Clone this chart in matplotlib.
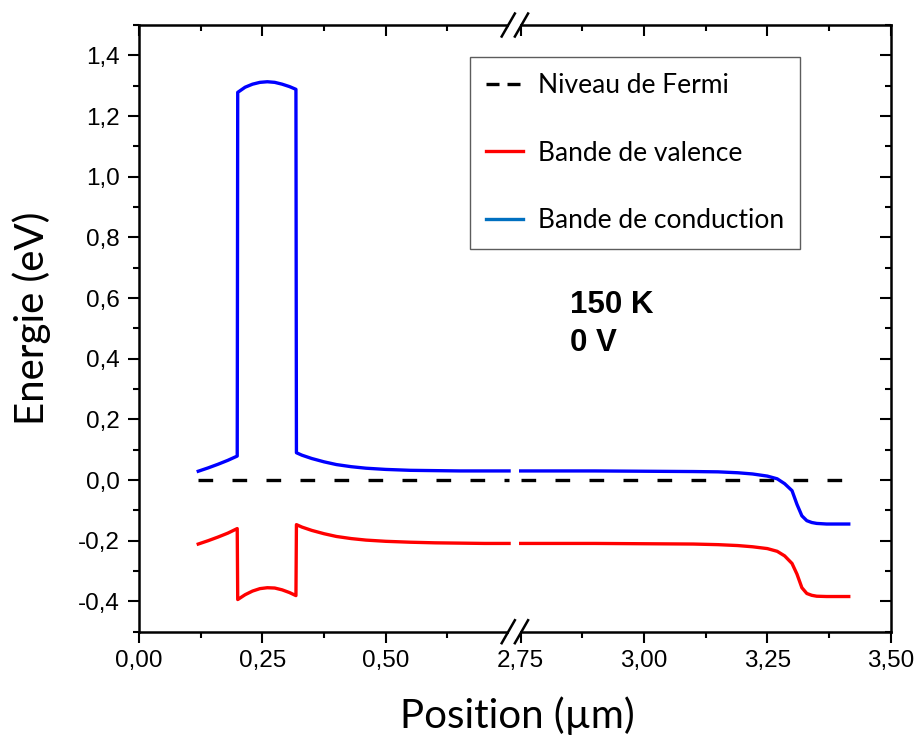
import matplotlib
matplotlib.use("Agg")
import numpy as np
import matplotlib.pyplot as plt
from matplotlib.ticker import FixedLocator, FuncFormatter, NullFormatter
from matplotlib.lines import Line2D
from matplotlib.patches import Rectangle

# ---------------- data ----------------
# left segment (0 - 0.75 µm)
x_left = [0.12, 0.14, 0.16, 0.18, 0.199, 0.200, 0.215, 0.23, 0.245, 0.26, 0.275,
          0.29, 0.305, 0.318, 0.319, 0.33, 0.35, 0.375, 0.40, 0.43, 0.46, 0.50,
          0.55, 0.60, 0.65, 0.70, 0.75]
cond_left = [0.029, 0.040, 0.052, 0.065, 0.079, 1.278, 1.295, 1.305, 1.311, 1.313, 1.311,
             1.305, 1.297, 1.288, 0.090, 0.082, 0.071, 0.060, 0.051, 0.044, 0.039, 0.035,
             0.032, 0.031, 0.030, 0.030, 0.030]
val_left = [-0.211, -0.200, -0.188, -0.175, -0.160, -0.394, -0.378, -0.366, -0.358, -0.355, -0.356,
            -0.362, -0.371, -0.381, -0.147, -0.155, -0.166, -0.177, -0.186, -0.193, -0.198, -0.202,
            -0.205, -0.207, -0.208, -0.209, -0.209]

# right segment (2.75 - 3.5 µm)
x_right = [2.75, 2.90, 3.00, 3.10, 3.15, 3.19, 3.22, 3.25, 3.27, 3.285, 3.30, 3.31,
           3.32, 3.33, 3.34, 3.35, 3.37, 3.39, 3.415]
cond_right = [0.030, 0.030, 0.029, 0.028, 0.027, 0.024, 0.020, 0.013, 0.004, -0.012, -0.035, -0.080,
              -0.118, -0.134, -0.140, -0.143, -0.145, -0.145, -0.145]
val_right = [-0.209, -0.209, -0.210, -0.211, -0.213, -0.216, -0.220, -0.226, -0.235, -0.250, -0.275, -0.310,
             -0.355, -0.374, -0.380, -0.383, -0.384, -0.384, -0.384]

fermi_x_left = [0.12, 0.75]
fermi_x_right = [2.75, 3.415]
fermi_level = [0.0, 0.0]

x_major = [0.0, 0.25, 0.5, 2.75, 3.0, 3.25, 3.5]
x_minor = [0.125, 0.375, 0.625, 2.875, 3.125, 3.375]
y_major = [-0.4, -0.2, 0.0, 0.2, 0.4, 0.6, 0.8, 1.0, 1.2, 1.4]
y_minor = [-0.5, -0.3, -0.1, 0.1, 0.3, 0.5, 0.7, 0.9, 1.1, 1.3, 1.5]

labels = ["Niveau de Fermi", "Bande de valence", "Bande de conduction"]
annot = "150 K\n0 V"

# ---------------- broken x scale ----------------
BRK0, BRK1, GAP = 0.75, 2.75, 0.0235


def fwd(x):
    x = np.asarray(x, dtype=float)
    return np.where(x <= BRK0, x,
                    np.where(x >= BRK1, x - (BRK1 - BRK0) + GAP,
                             BRK0 + (x - BRK0) * GAP / (BRK1 - BRK0)))


def inv(u):
    u = np.asarray(u, dtype=float)
    return np.where(u <= BRK0, u,
                    np.where(u >= BRK0 + GAP, u + (BRK1 - BRK0) - GAP,
                             BRK0 + (u - BRK0) * (BRK1 - BRK0) / GAP))


fig = plt.figure(figsize=(9.19, 7.36), dpi=100)
ax = fig.add_axes([0.1513, 0.1417, 0.8179, 0.8243])


def setup_x(a):
    a.set_xscale("function", functions=(fwd, inv))
    a.set_xlim(0, 3.5)
    a.xaxis.set_major_locator(FixedLocator(x_major))
    a.xaxis.set_minor_locator(FixedLocator(x_minor))


setup_x(ax)
ax.set_ylim(-0.5, 1.5)
ax.yaxis.set_major_locator(FixedLocator(y_major))
ax.yaxis.set_minor_locator(FixedLocator(y_minor))

lw = 2.4
fermi_style = (0, (4.4, 5.8))
ax.plot(fermi_x_left, fermi_level, color="black", lw=lw, linestyle=fermi_style)
ax.plot(fermi_x_right, fermi_level, color="black", lw=lw, linestyle=fermi_style)
ax.plot(x_left, val_left, color="#FF0000", lw=lw)
ax.plot(x_right, val_right, color="#FF0000", lw=lw)
ax.plot(x_left, cond_left, color="#0000FF", lw=lw)
ax.plot(x_right, cond_right, color="#0000FF", lw=lw)

ax.xaxis.set_major_formatter(FuncFormatter(lambda v, p: f"{v:.2f}".replace(".", ",")))
ax.yaxis.set_major_formatter(FuncFormatter(lambda v, p: f"{v:.1f}".replace(".", ",")))
ax.tick_params(axis="both", which="major", direction="out", length=8, width=1.5,
               labelsize=17.5, top=False, right=False)
ax.tick_params(axis="both", which="minor", direction="out", length=4.5, width=1.5,
               top=False, right=False)
ax.tick_params(axis="x", which="major", pad=5)
ax.tick_params(axis="y", which="major", pad=6)
for lab in ax.get_xticklabels() + ax.get_yticklabels():
    lab.set_fontfamily("Liberation Sans")
for s in ax.spines.values():
    s.set_linewidth(1.8)

# top ticks (inward)
axt = ax.twiny()
setup_x(axt)
axt.xaxis.set_major_formatter(NullFormatter())
axt.tick_params(axis="x", which="major", direction="in", length=8, width=1.5)
axt.tick_params(axis="x", which="minor", direction="in", length=4.5, width=1.5)
# right ticks (inward)
axr = ax.twinx()
axr.set_ylim(-0.5, 1.5)
axr.yaxis.set_major_locator(FixedLocator(y_major))
axr.yaxis.set_minor_locator(FixedLocator(y_minor))
axr.yaxis.set_major_formatter(NullFormatter())
axr.tick_params(axis="y", which="major", direction="in", length=8, width=1.5)
axr.tick_params(axis="y", which="minor", direction="in", length=4.5, width=1.5)
for a in (axt, axr):
    for s in a.spines.values():
        s.set_visible(False)
    a.patch.set_visible(False)

# axis labels
ax.set_xlabel("Position (µm)", fontfamily="Lato", fontsize=29)
ax.set_ylabel("Energie (eV)", fontfamily="Lato", fontsize=29)
ax.xaxis.set_label_coords(0.503, -0.107)
ax.yaxis.set_label_coords(-0.117, 0.517)

# annotation
ax.text(2.85, 0.515, annot, fontfamily="Liberation Sans", fontweight="bold",
        fontsize=22.5, va="center", ha="left", linespacing=1.33)

# legend
handles = [Line2D([], [], color="black", lw=lw, linestyle=(0, (3.9, 2.4))),
           Line2D([], [], color="#FF0000", lw=lw),
           Line2D([], [], color="#0070C0", lw=lw)]
leg = ax.legend(handles, labels, loc="upper left", bbox_to_anchor=(0.5114, 0.9226),
                bbox_transform=fig.transFigure, borderaxespad=0, frameon=True,
                fancybox=False, prop=dict(family="Lato", size=19),
                handlelength=1.4, handletextpad=0.58, labelspacing=1.62,
                borderpad=0.6)
leg.get_frame().set_edgecolor("#333333")
leg.get_frame().set_linewidth(1.0)

# break marks on top and bottom spines
frac = 0.5
dxp = 6.6 / 751.7
for yb in (0.0, 1.0):
    fig.add_artist(Rectangle((frac - 5.5 / 751.7, yb - 4 / 606.7), 11 / 751.7, 8 / 606.7,
                             transform=ax.transAxes, facecolor="white", edgecolor="none",
                             zorder=10))
    for off in (-dxp, dxp):
        xc = frac + off
        fig.add_artist(Line2D([xc - 6.6 / 751.7, xc + 6.6 / 751.7],
                              [yb - 11.5 / 606.7, yb + 11.5 / 606.7],
                              transform=ax.transAxes, color="black", lw=1.8, zorder=11))

fig.savefig("out.png", dpi=100)
